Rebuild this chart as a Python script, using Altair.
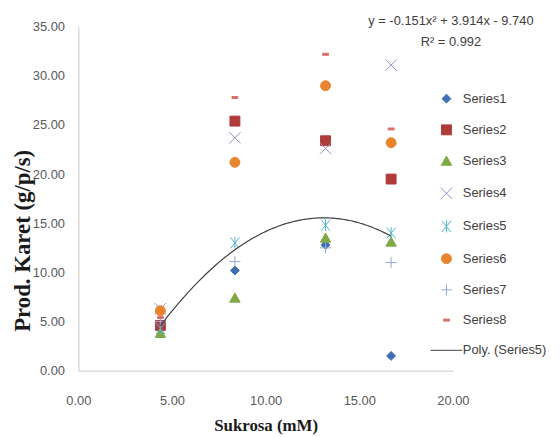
import altair as alt
import pandas as pd

# ---- data ----
x_vals = [4.38, 8.36, 13.2, 16.7]
series_names = ["Series1", "Series2", "Series3", "Series4",
                "Series5", "Series6", "Series7", "Series8"]
s1 = [4.3, 10.2, 12.8, 1.5]
s2 = [4.6, 25.4, 23.4, 19.5]
s3 = [3.8, 7.4, 13.5, 13.1]
s4 = [6.3, 23.7, 22.6, 31.1]
s5 = [4.3, 13.0, 14.8, 14.0]
s6 = [6.1, 21.2, 29.0, 23.2]
s7 = [5.0, 11.1, 12.5, 11.0]
s8 = [5.4, 27.8, 32.2, 24.6]
trend_name = "Poly. (Series5)"
eq_line1 = "y = -0.151x² + 3.914x - 9.740"
eq_line2 = "R² = 0.992"
x_title = "Sukrosa (mM)"
y_title = "Prod. Karet (g/p/s)"
x_ticks = [0, 5, 10, 15, 20]
y_ticks = [0, 5, 10, 15, 20, 25, 30, 35]

all_series = [s1, s2, s3, s4, s5, s6, s7, s8]
rows = []
for name, vals in zip(series_names, all_series):
    for xv, yv in zip(x_vals, vals):
        rows.append({"series": name, "x": xv, "y": yv})
df = pd.DataFrame(rows)
one = pd.DataFrame({"k": [0]})

# ---- styling ----
domain = series_names + [trend_name]
shapes = [
    "M0,-0.9L0.9,0L0,0.9L-0.9,0Z",                      # diamond
    "M-1,-1H1V1H-1Z",                                    # square
    "M0,-1L1.05,0.85H-1.05Z",                            # triangle
    "M-1.15,-1.15L1.15,1.15M-1.15,1.15L1.15,-1.15",      # X
    "M-0.9,-1.1L0.9,1.1M-0.9,1.1L0.9,-1.1M0,-1.2V1.2",   # asterisk
    "M1,0A1,1,0,1,1,-1,0A1,1,0,1,1,1,0Z",                # circle
    "M-1.1,0H1.1M0,-1.1V1.1",                            # plus
    "M-0.6,-0.2H0.6V0.2H-0.6Z",                          # dash
    "M-3.2,0H3.2",                                       # trend line
]
colors = ["#3F6EB3", "#B03C3A", "#80A845", "#9C8CC4", "#4FB3CC",
          "#E8832E", "#8FAAD6", "#D9706E", "#404040"]
fills = ["#3F6EB3", "#B03C3A", "#80A845", "transparent", "transparent",
         "#E8832E", "transparent", "#D9706E", "transparent"]

tick_font = "Liberation Sans"
title_font = "Liberation Serif"

legend = alt.Legend(
    orient="none", legendX=365, legendY=66, title=None,
    symbolSize=100, symbolStrokeWidth=1, labelOffset=10,
    labelFont=tick_font, labelFontSize=13, labelColor="#404040",
    rowPadding=16.5, padding=0,
)

xscale = alt.Scale(domain=[0, 20], nice=False)
yscale = alt.Scale(domain=[0, 35], nice=False)

xaxis = alt.Axis(values=x_ticks, format=".2f", grid=False, ticks=False,
                 domainColor="#c8c8c8", labelFont=tick_font, labelFontSize=13,
                 labelColor="#595959", labelPadding=24, labelFlush=False,
                 labelOverlap=False,
                 title=x_title, titleFont=title_font, titleFontSize=17,
                 titleFontWeight="bold", titleColor="#1a1a1a", titlePadding=10)
yaxis = alt.Axis(values=y_ticks, format=".2f", grid=False, ticks=False,
                 domainColor="#c8c8c8", labelFont=tick_font, labelFontSize=13,
                 labelColor="#595959", labelPadding=14, labelFlush=False,
                 labelOverlap=False, title=None)

base = alt.Chart(df)

points = base.mark_point(opacity=1, strokeWidth=1, size=100).encode(
    x=alt.X("x:Q", scale=xscale, axis=xaxis),
    y=alt.Y("y:Q", scale=yscale, axis=yaxis),
    shape=alt.Shape("series:N", scale=alt.Scale(domain=domain, range=shapes),
                    legend=legend),
    fill=alt.Fill("series:N", scale=alt.Scale(domain=domain, range=fills),
                  legend=legend),
    stroke=alt.Stroke("series:N", scale=alt.Scale(domain=domain, range=colors),
                      legend=legend),
    order=alt.Order("series:N"),
)

trend = base.transform_filter(alt.datum.series == "Series5").transform_regression(
    "x", "y", method="poly", order=2
).mark_line(color="#404040", strokeWidth=1.2).encode(
    x=alt.X("x:Q", scale=xscale),
    y=alt.Y("y:Q", scale=yscale),
)

tbase = alt.Chart(one)
eq1 = tbase.mark_text(text=eq_line1, font=tick_font, fontSize=13,
                      color="#404040", align="center", baseline="middle").encode(
    x=alt.value(376), y=alt.value(-6))
eq2 = tbase.mark_text(text=eq_line2, font=tick_font, fontSize=13,
                      color="#404040", align="center", baseline="middle").encode(
    x=alt.value(376), y=alt.value(15))
ytitle = tbase.mark_text(text=y_title, font=title_font, fontSize=23,
                         fontWeight="bold", color="#1a1a1a", angle=270,
                         align="center", baseline="middle").encode(
    x=alt.value(-56), y=alt.value(216))

chart = alt.layer(points, trend, eq1, eq2, ytitle).properties(
    width=378, height=347,
    autosize=alt.AutoSizeParams(type="none"),
    padding={"left": 71, "top": 17, "right": 100, "bottom": 64},
    background="white",
).configure_view(stroke=None)

chart.save("out.html", embed_options={"renderer": "svg", "actions": False})
